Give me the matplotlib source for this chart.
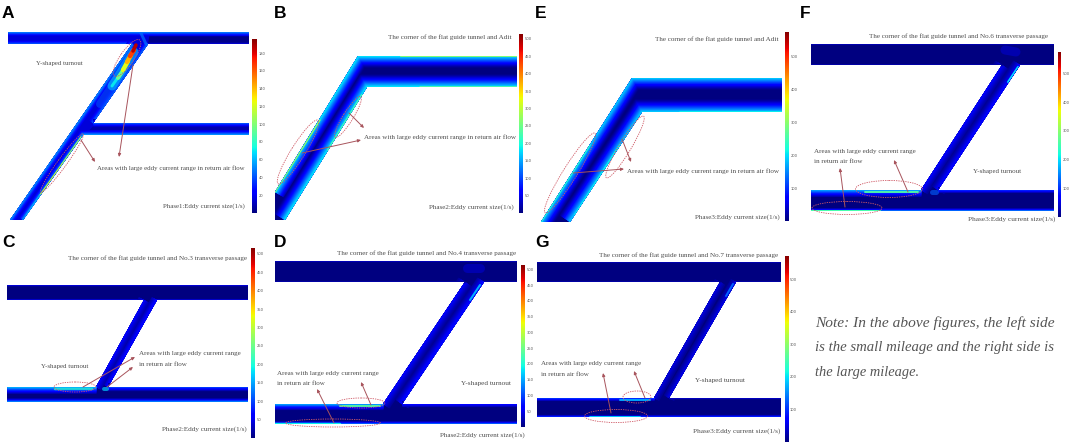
import matplotlib
matplotlib.use("Agg")
import matplotlib.pyplot as plt
import numpy as np
from matplotlib.patches import Ellipse, Polygon

W, H = 1072, 444
DPI = 100
JET = plt.get_cmap("jet")
AREAS = "Areas with large eddy current range in return air flow"
AREAS1 = "Areas with large eddy current range"
AREAS2 = "in return air flow"
YT = "Y-shaped turnout"
ADIT = "The corner of the flat guide tunnel and Adit"
P1 = "Phase1:Eddy current size(1/s)"
P2 = "Phase2:Eddy current size(1/s)"
P3 = "Phase3:Eddy current size(1/s)"

LETTERS = [("A", 2, 18), ("B", 274, 18), ("E", 535, 18), ("F", 800, 18),
           ("C", 2, 247), ("D", 274, 247), ("G", 535, 247)]
NOTE = [("Note: In the above figures, the left side", 815, 1053, 323),
        ("is the small mileage and the right side is", 815, 1053, 347),
        ("the large mileage.", 815, 919, 372)]

# each outline: tunnel boundary; walls: (points, wall level, glow depth px, inner level)
# streaks: (points, level, width px, alpha); ellipses: (cx, cy, long, narrow, angle)
# arrows: (from, to); texts: (string, left, right, y); bar: (x0, x1, y0, y1, vmax, ticks)
A_OUTLINE = [(8, 32), (249, 32), (249, 44), (148, 44), (93, 123), (249, 123), (249, 135), (83, 135),
             (23, 220), (10, 220), (132, 44), (8, 44)]
A_BASE = 0.08
A_WALLS = [([(8, 32), (249, 32)], 0.26, 4, 0.08), ([(8, 44), (132, 44)], 0.24, 4, 0.08),
           ([(10, 220), (132, 44)], 0.28, 5, 0.08), ([(249, 44), (148, 44)], 0.1, 2, 0.02),
           ([(148, 44), (93, 123)], 0.24, 5, 0.08), ([(93, 123), (249, 123)], 0.22, 4, 0.05),
           ([(249, 135), (83, 135), (23, 220)], 0.3, 5, 0.08)]
A_SHADE = [([(150, 32), (249, 32), (249, 44), (148, 44)], 0.01), ([(96, 123), (249, 123), (249, 135), (85, 135)], 0.04)]
A_STREAKS = [([(100, 104), (116, 80)], 0.2, 8, 0.6), ([(112, 86), (134, 52)], 0.3, 9, 0.7),
             ([(112, 86), (119, 76)], 0.36, 3, 0.9), ([(118, 78), (124, 69)], 0.48, 4, 1), ([(123, 70), (128, 61)], 0.62, 4.5, 1),
             ([(127, 62), (131, 55)], 0.72, 4.5, 1), ([(130, 56), (134, 50)], 0.84, 4.5, 1), ([(133, 51), (136, 45)], 0.95, 3.5, 1),
             ([(140, 31), (146, 44)], 0.24, 3, 0.7), ([(81, 137), (62, 164)], 0.55, 1.4, 1), ([(62, 164), (40, 195)], 0.62, 1.2, 1),
             ([(40, 195), (26, 216)], 0.3, 2, 0.8)]
A_ELLIPSES = [(127, 58, 44, 14, -55), (62, 163, 72, 9, -54)]
A_ARROWS = [((81, 140), (95, 162)), ((133, 65), (119, 157))]
A_TEXTS = [(YT, 36, 83, 64), (AREAS, 97, 246, 168), (P1, 163, 246, 206)]
A_BAR = (252, 257, 39, 213, 196, [20, 40, 60, 80, 100, 120, 140, 160, 180])

B_OUTLINE = [(358, 56), (517, 56), (517, 87), (367, 87), (285, 220), (275, 220), (275, 192)]
B_BASE = 0.0
B_WALLS = [([(275, 192), (358, 56), (517, 56)], 0.38, 12, 0.01), ([(517, 87), (367, 87), (285, 220)], 0.38, 13, 0.01)]
B_SHADE = []
B_STREAKS = [([(275, 192), (320, 120)], 0.55, 1.3, 1), ([(400, 56), (517, 56)], 0.52, 1, 0.9), ([(420, 87), (517, 87)], 0.46, 1.6, 1),
             ([(328, 150), (362, 95)], 0.44, 2, 1)]
B_ELLIPSES = [(298, 152, 75, 14, -58), (348, 117, 48, 10, -58)]
B_ARROWS = [((349, 113), (364, 128)), ((302, 153), (361, 140))]
B_TEXTS = [(ADIT, 388, 513, 37), (AREAS, 364, 517, 137), (P2, 429, 515, 207)]
B_BAR = (519, 523, 34, 213, 514, [50, 100, 150, 200, 250, 300, 350, 400, 450, 500])

C_OUTLINE = [(7, 285), (248, 285), (248, 300), (157, 300), (108, 387), (248, 387), (248, 402), (7, 402), (7, 387),
             (96, 387), (144, 300), (7, 300)]
C_BASE = 0.0
C_WALLS = [([(7, 285), (248, 285)], 0.1, 1.5, 0.0), ([(248, 300), (157, 300)], 0.12, 1.5, 0.0), ([(144, 300), (7, 300)], 0.12, 1.5, 0.0),
           ([(157, 300), (108, 387)], 0.14, 6, 0.04), ([(96, 387), (144, 300)], 0.12, 6, 0.04),
           ([(7, 387), (96, 387)], 0.32, 7, 0.03), ([(108, 387), (248, 387)], 0.2, 4, 0.03),
           ([(7, 402), (248, 402)], 0.32, 4, 0.03)]
C_SHADE = []
C_STREAKS = [([(55, 389), (92, 389)], 0.4, 2.5, 0.7), ([(104, 389), (107, 389)], 0.32, 4, 0.7), ([(7, 402), (50, 402)], 0.48, 1, 1)]
C_ELLIPSES = [(75, 387, 42, 10, 0)]
C_ARROWS = [((83, 387), (135, 357)), ((107, 387), (133, 367))]
C_TEXTS = [("The corner of the flat guide tunnel and No.3 transverse passage", 68, 248, 258), (AREAS1, 139, 242, 353),
           (AREAS2, 139, 187, 364), (YT, 41, 89, 366), (P2, 162, 247, 429)]
C_BAR = (251, 255, 248, 438, 516, [50, 100, 150, 200, 250, 300, 350, 400, 450, 500])

D_OUTLINE = [(275, 261), (517, 261), (517, 282), (484, 282), (402, 404), (517, 404), (517, 424), (275, 424), (275, 404),
             (383, 404), (465, 282), (275, 282)]
D_BASE = 0.0
D_WALLS = [([(465, 282), (383, 404)], 0.12, 8, 0.02), ([(484, 282), (402, 404)], 0.15, 8, 0.03),
           ([(275, 404), (383, 404)], 0.3, 6, 0.03), ([(402, 404), (517, 404)], 0.14, 3, 0.03), ([(275, 424), (517, 424)], 0.28, 3, 0.03),
           ([(275, 261), (517, 261)], 0.07, 1, 0.0), ([(275, 282), (465, 282)], 0.08, 1, 0.0), ([(484, 282), (517, 282)], 0.08, 1, 0.0)]
D_SHADE = []
D_STREAKS = [([(340, 406), (380, 406)], 0.46, 2, 0.9), ([(480, 285), (470, 300)], 0.3, 2, 1), ([(275, 424), (340, 424)], 0.36, 2.5, 1),
             ([(467, 268), (480, 268)], 0.09, 9, 0.45)]
D_ELLIPSES = [(361, 403, 48, 10, 0), (333, 423, 95, 8, 0)]
D_ARROWS = [((371, 405), (361, 382)), ((334, 423), (317, 389))]
D_TEXTS = [("The corner of the flat guide tunnel and No.4 transverse passage", 337, 519, 253), (AREAS1, 277, 380, 373),
           (AREAS2, 277, 325, 383), (YT, 461, 511, 383), (P2, 440, 526, 435)]
D_BAR = (521, 525, 265, 427, 514, [50, 100, 150, 200, 250, 300, 350, 400, 450, 500])

E_OUTLINE = [(632, 78), (782, 78), (782, 112), (642, 112), (570, 222), (541, 222)]
E_BASE = 0.0
E_WALLS = [([(541, 222), (632, 78), (782, 78)], 0.35, 12, 0.01), ([(782, 112), (642, 112), (570, 222)], 0.35, 13, 0.01)]
E_SHADE = []
E_STREAKS = [([(541, 222), (590, 145)], 0.4, 1.6, 1), ([(620, 145), (575, 215)], 0.36, 2.2, 1), ([(680, 112), (782, 112)], 0.36, 1.8, 1)]
E_ELLIPSES = [(570, 173, 94, 14, -58), (625, 147, 72, 12, -59)]
E_ARROWS = [((622, 139), (631, 162)), ((573, 173), (624, 169))]
E_TEXTS = [(ADIT, 655, 780, 39), (AREAS, 627, 781, 171), (P3, 695, 781, 217)]
E_BAR = (785, 789, 32, 221, 575, [100, 200, 300, 400, 500])

F_OUTLINE = [(811, 44), (1054, 44), (1054, 65), (1020, 65), (938, 190), (1054, 190), (1054, 211), (811, 211), (811, 190),
             (921, 190), (1002, 65), (811, 65)]
F_BASE = 0.0
F_WALLS = [([(1002, 65), (921, 190)], 0.12, 8, 0.02), ([(1020, 65), (938, 190)], 0.14, 8, 0.02),
           ([(811, 190), (921, 190)], 0.3, 7, 0.03), ([(938, 190), (1054, 190)], 0.18, 3, 0.02), ([(811, 211), (1054, 211)], 0.3, 3, 0.03),
           ([(811, 44), (1054, 44)], 0.06, 1, 0.0), ([(811, 65), (1002, 65)], 0.08, 1, 0.0), ([(1020, 65), (1054, 65)], 0.08, 1, 0.0)]
F_SHADE = []
F_STREAKS = [([(865, 192), (918, 192)], 0.45, 2, 0.9), ([(811, 211), (880, 211)], 0.44, 2, 1), ([(1018, 67), (1008, 82)], 0.34, 2, 1),
             ([(932, 192), (936, 192)], 0.22, 5, 0.6), ([(1005, 50), (1016, 52)], 0.09, 9, 0.45)]
F_ELLIPSES = [(889, 189, 67, 17, 0), (847, 208, 70, 13, 0)]
F_ARROWS = [((908, 192), (894, 160)), ((845, 207), (840, 168))]
F_TEXTS = [("The corner of the flat guide tunnel and No.6 transverse passage", 869, 1051, 36), (AREAS1, 814, 917, 151),
           (AREAS2, 814, 863, 161), (YT, 973, 1022, 171), (P3, 968, 1055, 219)]
F_BAR = (1058, 1061, 52, 217, 574, [100, 200, 300, 400, 500])

G_OUTLINE = [(537, 262), (781, 262), (781, 282), (736, 282), (669, 398), (781, 398), (781, 417), (537, 417), (537, 398),
             (654, 398), (720, 282), (537, 282)]
G_BASE = 0.0
G_WALLS = [([(720, 282), (654, 398)], 0.09, 6, 0.02), ([(736, 282), (669, 398)], 0.1, 6, 0.02),
           ([(537, 398), (654, 398)], 0.2, 3, 0.02), ([(669, 398), (781, 398)], 0.08, 1, 0.01), ([(537, 417), (781, 417)], 0.22, 2.5, 0.02),
           ([(537, 262), (781, 262)], 0.06, 1, 0.0), ([(537, 282), (720, 282)], 0.08, 1, 0.0), ([(736, 282), (781, 282)], 0.08, 1, 0.0)]
G_SHADE = []
G_STREAKS = [([(620, 400), (650, 400)], 0.3, 2, 0.9), ([(590, 417), (640, 417)], 0.32, 2, 1), ([(733, 284), (726, 296)], 0.22, 2, 1)]
G_ELLIPSES = [(637, 397, 28, 12, 0), (616, 416, 63, 13, 0)]
G_ARROWS = [((645, 398), (634, 371)), ((611, 413), (603, 373))]
G_TEXTS = [("The corner of the flat guide tunnel and No.7 transverse passage", 599, 781, 255), (AREAS1, 541, 643, 363),
           (AREAS2, 541, 589, 374), (YT, 695, 745, 380), (P3, 693, 780, 431)]
G_BAR = (785, 788, 256, 442, 572, [100, 200, 300, 400, 500])

PANELS = [
    (A_OUTLINE, A_BASE, A_SHADE, A_WALLS, A_STREAKS, A_ELLIPSES, A_ARROWS, A_TEXTS, A_BAR),
    (B_OUTLINE, B_BASE, B_SHADE, B_WALLS, B_STREAKS, B_ELLIPSES, B_ARROWS, B_TEXTS, B_BAR),
    (C_OUTLINE, C_BASE, C_SHADE, C_WALLS, C_STREAKS, C_ELLIPSES, C_ARROWS, C_TEXTS, C_BAR),
    (D_OUTLINE, D_BASE, D_SHADE, D_WALLS, D_STREAKS, D_ELLIPSES, D_ARROWS, D_TEXTS, D_BAR),
    (E_OUTLINE, E_BASE, E_SHADE, E_WALLS, E_STREAKS, E_ELLIPSES, E_ARROWS, E_TEXTS, E_BAR),
    (F_OUTLINE, F_BASE, F_SHADE, F_WALLS, F_STREAKS, F_ELLIPSES, F_ARROWS, F_TEXTS, F_BAR),
    (G_OUTLINE, G_BASE, G_SHADE, G_WALLS, G_STREAKS, G_ELLIPSES, G_ARROWS, G_TEXTS, G_BAR),
]

fig = plt.figure(figsize=(W / DPI, H / DPI), dpi=DPI, facecolor="white")
ax = fig.add_axes([0, 0, 1, 1])
ax.set_xlim(0, W)
ax.set_ylim(H, 0)
ax.axis("off")
renderer = fig.canvas.get_renderer()
PX = 72 / DPI
DASH = "#cf5a66"
ARROW = "#a8545c"
TEXT = "#4d4d4d"


def fit_text(s, left, right, y, size=5.0, **kw):
    t = ax.text(left, y, s, family="Liberation Serif", fontsize=size, ha="left", va="center", color=TEXT, zorder=8, **kw)
    t.set_fontsize(size * (right - left) / t.get_window_extent(renderer).width)
    return t


def draw_panel(outline, base, shade, walls, streaks, ellipses, arrows, texts, bar):
    body = Polygon(outline, closed=True, facecolor=JET(base), edgecolor="none", zorder=2)
    ax.add_patch(body)
    for verts, level in shade:
        ax.add_patch(Polygon(verts, closed=True, facecolor=JET(level), edgecolor="none", zorder=2.1))
    for pts, edge, depth, inner in walls:
        xs, ys = zip(*pts)
        for f in np.linspace(1, 0.08, 14):
            level = inner + (edge - inner) * (1 - f) ** 1.2
            ln, = ax.plot(xs, ys, color=JET(level), lw=2 * depth * f * PX, solid_joinstyle="miter",
                          solid_capstyle="butt", zorder=3)
            ln.set_clip_path(body)
    for pts, level, width, alpha in streaks:
        xs, ys = zip(*pts)
        ln, = ax.plot(xs, ys, color=JET(level), lw=width * PX, alpha=alpha, solid_capstyle="round", zorder=4)
        ln.set_clip_path(body)
    for cx, cy, long_, narrow, angle in ellipses:
        ax.add_patch(Ellipse((cx, cy), long_, narrow, angle=angle, fill=False, edgecolor=DASH, lw=0.6,
                             linestyle=(0, (1.6, 1.2)), zorder=6))
    for start, end in arrows:
        ax.annotate("", xy=end, xytext=start, zorder=7,
                    arrowprops=dict(arrowstyle="-|>,head_length=0.3,head_width=0.14", color=ARROW, lw=0.7,
                                    shrinkA=0, shrinkB=0, mutation_scale=6))
    for s, left, right, y in texts:
        fit_text(s, left, right, y)
    x0, x1, y0, y1, vmax, ticks = bar
    cax = fig.add_axes([x0 / W, 1 - y1 / H, (x1 - x0) / W, (y1 - y0) / H])
    cax.imshow(np.linspace(vmax, 0, 256).reshape(-1, 1), cmap="jet", aspect="auto", extent=[0, 1, 0, vmax])
    cax.set_xticks([])
    cax.yaxis.tick_right()
    cax.set_yticks(ticks)
    cax.set_yticklabels([str(v) for v in ticks], fontsize=2.6, color="#555555")
    cax.tick_params(axis="y", length=0, pad=1.5)
    for sp in cax.spines.values():
        sp.set_visible(False)


for panel in PANELS:
    draw_panel(*panel)

for s, x, y in LETTERS:
    ax.text(x, y, s, family="Liberation Sans", fontweight="bold", fontsize=12.5, ha="left", va="baseline", color="black", zorder=9)

for s, left, right, y in NOTE:
    t = fit_text(s, left, right, y, size=12, style="italic")
    t.set_color("#555555")

fig.savefig("out.png", dpi=DPI, facecolor="white")
